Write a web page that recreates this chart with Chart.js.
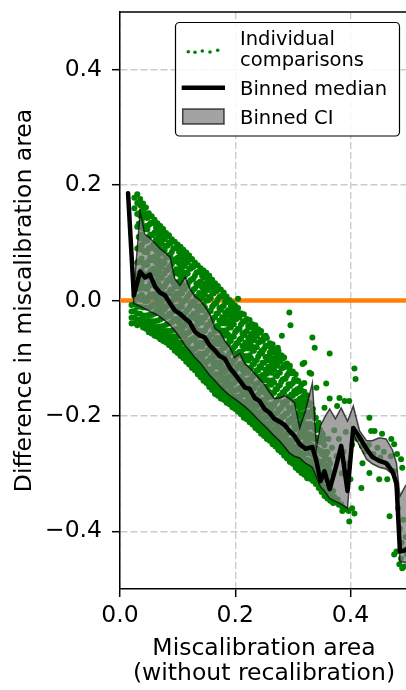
<!DOCTYPE html>
<html><head><meta charset="utf-8">
<script src="https://cdn.jsdelivr.net/npm/chart.js@4.4.0/dist/chart.umd.min.js"></script>
<style>
html,body{margin:0;padding:0;overflow:hidden;background:#fff;width:406px;height:690px;}
#wrap{position:relative;width:412px;height:690px;}
</style></head><body>
<div id="wrap"><canvas id="c" width="412" height="690"></canvas></div>
<script>
// ---- data ----
const binX = [0.014,0.024,0.035,0.043,0.052,0.061,0.069,0.078,0.087,0.095,0.104,0.113,0.121,0.130,0.139,0.147,0.156,0.165,0.173,0.182,0.191,0.199,0.208,0.217,0.225,0.234,0.242,0.251,0.260,0.268,0.277,0.286,0.294,0.303,0.312,0.322,0.334,0.341,0.348,0.355,0.364,0.374,0.384,0.395,0.405,0.416,0.428,0.438,0.450,0.462,0.473,0.480,0.486,0.495,0.502];
const binMedian = [0.186,0.009,0.050,0.040,0.045,0.024,0.014,0.009,-0.005,-0.017,-0.023,-0.031,-0.038,-0.054,-0.061,-0.064,-0.078,-0.087,-0.096,-0.101,-0.117,-0.127,-0.139,-0.151,-0.153,-0.169,-0.174,-0.188,-0.195,-0.205,-0.210,-0.216,-0.226,-0.235,-0.249,-0.257,-0.254,-0.278,-0.313,-0.296,-0.327,-0.292,-0.252,-0.330,-0.221,-0.237,-0.257,-0.271,-0.278,-0.282,-0.296,-0.317,-0.435,-0.433,-0.428];
const binUpper = [0.186,0.017,0.153,0.115,0.108,0.099,0.090,0.083,0.075,0.038,0.026,0.040,0.021,0.007,0.000,-0.010,-0.024,-0.049,-0.054,-0.070,-0.082,-0.099,-0.092,-0.110,-0.117,-0.127,-0.136,-0.146,-0.160,-0.170,-0.169,-0.165,-0.170,-0.177,-0.221,-0.191,-0.143,-0.256,-0.217,-0.203,-0.188,-0.205,-0.186,-0.209,-0.183,-0.226,-0.243,-0.243,-0.238,-0.240,-0.259,-0.282,-0.339,-0.322,-0.313];
const binLower = [0.186,-0.005,-0.010,-0.014,-0.019,-0.023,-0.028,-0.035,-0.043,-0.052,-0.064,-0.078,-0.087,-0.099,-0.108,-0.118,-0.130,-0.139,-0.148,-0.157,-0.165,-0.170,-0.177,-0.184,-0.191,-0.200,-0.209,-0.217,-0.226,-0.235,-0.243,-0.254,-0.264,-0.270,-0.273,-0.282,-0.289,-0.306,-0.323,-0.330,-0.343,-0.348,-0.353,-0.360,-0.231,-0.252,-0.275,-0.283,-0.289,-0.292,-0.301,-0.330,-0.452,-0.454,-0.452];

// individual comparisons: each row = [x, y1, y2, ...]
const scatterColumns = [
[0.020,-0.008,-0.019,-0.030,-0.040],
[0.025,0.178,0.160,0.022,0.008,-0.006,-0.018,-0.029,-0.039],
[0.030,0.184,0.169,0.150,0.128,0.090,0.066,0.041,0.020,0.004,-0.011,-0.022,-0.033,-0.043],
[0.035,0.176,0.165,0.147,0.128,0.108,0.089,0.067,0.044,0.021,0.002,-0.011,-0.023,-0.033,-0.041],
[0.040,0.168,0.147,0.125,0.108,0.087,0.064,0.046,0.024,0.006,-0.012,-0.026,-0.034,-0.041,-0.047],
[0.045,0.161,0.150,0.129,0.108,0.085,0.065,0.045,0.023,0.003,-0.012,-0.026,-0.036,-0.043,-0.049],
[0.050,0.151,0.131,0.110,0.090,0.069,0.047,0.025,0.006,-0.012,-0.025,-0.035,-0.043,-0.050,-0.055],
[0.055,0.146,0.135,0.113,0.091,0.070,0.049,0.027,0.007,-0.010,-0.025,-0.036,-0.045,-0.052,-0.057],
[0.060,0.140,0.118,0.097,0.076,0.054,0.031,0.011,-0.008,-0.023,-0.036,-0.046,-0.053,-0.058,-0.061],
[0.065,0.134,0.121,0.101,0.079,0.057,0.036,0.014,-0.005,-0.021,-0.035,-0.046,-0.054,-0.059,-0.063],
[0.070,0.129,0.106,0.084,0.063,0.042,0.020,-0.001,-0.018,-0.033,-0.045,-0.054,-0.060,-0.064,-0.067],
[0.075,0.124,0.110,0.089,0.068,0.046,0.024,0.004,-0.014,-0.030,-0.044,-0.054,-0.061,-0.066,-0.070],
[0.080,0.117,0.095,0.074,0.053,0.030,0.009,-0.011,-0.028,-0.042,-0.053,-0.061,-0.066,-0.070,-0.073],
[0.085,0.113,0.100,0.079,0.057,0.035,0.013,-0.006,-0.024,-0.040,-0.053,-0.062,-0.068,-0.073,-0.077],
[0.090,0.106,0.084,0.063,0.041,0.019,-0.002,-0.021,-0.038,-0.052,-0.062,-0.070,-0.075,-0.079,-0.081],
[0.095,0.102,0.090,0.068,0.047,0.024,0.003,-0.017,-0.035,-0.050,-0.062,-0.071,-0.078,-0.083,-0.087],
[0.100,0.097,0.074,0.052,0.031,0.008,-0.013,-0.032,-0.049,-0.062,-0.072,-0.080,-0.085,-0.089,-0.091],
[0.105,0.093,0.081,0.058,0.036,0.014,-0.008,-0.028,-0.046,-0.061,-0.073,-0.082,-0.088,-0.093,-0.096],
[0.110,0.088,0.064,0.043,0.020,-0.002,-0.024,-0.043,-0.060,-0.073,-0.083,-0.090,-0.095,-0.098,-0.100],
[0.115,0.083,0.071,0.048,0.026,0.003,-0.019,-0.039,-0.057,-0.072,-0.084,-0.093,-0.099,-0.103,-0.106],
[0.120,0.078,0.055,0.032,0.010,-0.013,-0.035,-0.055,-0.072,-0.085,-0.095,-0.101,-0.106,-0.109,-0.111],
[0.125,0.072,0.060,0.037,0.015,-0.008,-0.030,-0.050,-0.068,-0.084,-0.095,-0.104,-0.110,-0.114,-0.117],
[0.130,0.066,0.043,0.021,-0.002,-0.024,-0.046,-0.066,-0.083,-0.096,-0.105,-0.112,-0.116,-0.119,-0.121],
[0.135,0.061,0.049,0.026,0.003,-0.019,-0.041,-0.061,-0.080,-0.095,-0.106,-0.115,-0.121,-0.125,-0.128],
[0.140,0.056,0.033,0.010,-0.013,-0.036,-0.058,-0.078,-0.095,-0.108,-0.117,-0.124,-0.128,-0.131,-0.133],
[0.145,0.052,0.040,0.016,-0.007,-0.030,-0.053,-0.073,-0.092,-0.107,-0.118,-0.127,-0.132,-0.136,-0.139],
[0.150,0.048,0.024,0.000,-0.024,-0.047,-0.070,-0.090,-0.107,-0.120,-0.129,-0.135,-0.139,-0.141,-0.143],
[0.155,0.043,0.030,0.006,-0.018,-0.042,-0.065,-0.085,-0.104,-0.119,-0.130,-0.138,-0.144,-0.147,-0.150],
[0.160,0.036,0.013,-0.011,-0.035,-0.059,-0.082,-0.102,-0.119,-0.131,-0.140,-0.146,-0.150,-0.153,-0.155],
[0.165,0.030,0.019,-0.005,-0.029,-0.053,-0.076,-0.096,-0.115,-0.129,-0.140,-0.148,-0.155,-0.159,-0.162],
[0.170,0.025,0.002,-0.022,-0.046,-0.070,-0.093,-0.112,-0.129,-0.141,-0.150,-0.157,-0.160,-0.163,-0.165],
[0.175,0.019,0.008,-0.016,-0.040,-0.064,-0.087,-0.107,-0.125,-0.139,-0.150,-0.158,-0.163,-0.167,-0.170],
[0.180,0.014,-0.009,-0.033,-0.057,-0.081,-0.103,-0.122,-0.139,-0.151,-0.159,-0.165,-0.168,-0.170,-0.172],
[0.185,0.007,-0.003,-0.027,-0.051,-0.075,-0.097,-0.117,-0.134,-0.148,-0.159,-0.166,-0.171,-0.174,-0.177],
[0.190,0.001,-0.020,-0.044,-0.068,-0.091,-0.113,-0.132,-0.148,-0.159,-0.167,-0.173,-0.176,-0.178,-0.180],
[0.195,-0.004,-0.014,-0.038,-0.062,-0.085,-0.107,-0.127,-0.144,-0.157,-0.167,-0.174,-0.179,-0.182,-0.185],
[0.200,-0.009,-0.031,-0.055,-0.079,-0.101,-0.123,-0.141,-0.156,-0.167,-0.175,-0.181,-0.184,-0.186,-0.188],
[0.205,0.003,-0.013,-0.025,-0.049,-0.073,-0.095,-0.117,-0.137,-0.154,-0.167,-0.177,-0.184,-0.188,-0.191,-0.193],
[0.210,-0.022,-0.042,-0.066,-0.090,-0.112,-0.133,-0.151,-0.166,-0.177,-0.185,-0.190,-0.193,-0.195,-0.197],
[0.215,-0.024,-0.036,-0.060,-0.084,-0.106,-0.127,-0.146,-0.163,-0.176,-0.186,-0.193,-0.198,-0.201,-0.203],
[0.220,-0.032,-0.053,-0.077,-0.101,-0.123,-0.143,-0.161,-0.175,-0.186,-0.194,-0.199,-0.202,-0.204,-0.206],
[0.225,-0.034,-0.047,-0.071,-0.095,-0.117,-0.137,-0.156,-0.172,-0.185,-0.194,-0.201,-0.206,-0.209,-0.211],
[0.230,-0.041,-0.063,-0.087,-0.111,-0.133,-0.153,-0.171,-0.185,-0.195,-0.203,-0.208,-0.211,-0.213,-0.215],
[0.235,-0.043,-0.057,-0.081,-0.105,-0.127,-0.147,-0.166,-0.182,-0.195,-0.204,-0.210,-0.215,-0.218,-0.221],
[0.240,-0.050,-0.073,-0.097,-0.121,-0.143,-0.163,-0.181,-0.195,-0.205,-0.212,-0.217,-0.220,-0.223,-0.225],
[0.245,-0.053,-0.068,-0.092,-0.116,-0.138,-0.158,-0.176,-0.192,-0.204,-0.213,-0.219,-0.224,-0.228,-0.231],
[0.250,-0.062,-0.084,-0.108,-0.132,-0.154,-0.174,-0.191,-0.204,-0.213,-0.220,-0.226,-0.230,-0.233,-0.235],
[0.255,-0.065,-0.079,-0.103,-0.127,-0.149,-0.169,-0.187,-0.202,-0.213,-0.222,-0.229,-0.234,-0.237,-0.240],
[0.260,-0.074,-0.096,-0.120,-0.144,-0.166,-0.186,-0.202,-0.214,-0.223,-0.230,-0.236,-0.239,-0.241,-0.243],
[0.265,-0.076,-0.090,-0.114,-0.138,-0.160,-0.180,-0.198,-0.212,-0.223,-0.232,-0.239,-0.244,-0.247,-0.249],
[0.270,-0.084,-0.106,-0.130,-0.154,-0.176,-0.196,-0.212,-0.224,-0.233,-0.240,-0.246,-0.249,-0.251,-0.253],
[0.275,-0.087,-0.101,-0.125,-0.148,-0.170,-0.190,-0.207,-0.221,-0.232,-0.241,-0.248,-0.253,-0.256,-0.259],
[0.280,-0.095,-0.117,-0.141,-0.164,-0.186,-0.205,-0.221,-0.233,-0.242,-0.250,-0.256,-0.259,-0.261,-0.263],
[0.285,-0.099,-0.112,-0.136,-0.159,-0.180,-0.200,-0.217,-0.231,-0.242,-0.251,-0.258,-0.263,-0.266,-0.269],
[0.290,-0.109,-0.130,-0.153,-0.175,-0.196,-0.215,-0.231,-0.243,-0.253,-0.260,-0.266,-0.270,-0.272,-0.274],
[0.295,-0.113,-0.125,-0.148,-0.170,-0.191,-0.211,-0.228,-0.242,-0.253,-0.261,-0.268,-0.273,-0.277,-0.280],
[0.300,-0.123,-0.143,-0.165,-0.187,-0.208,-0.227,-0.243,-0.254,-0.263,-0.270,-0.276,-0.279,-0.281,-0.283],
[0.305,-0.128,-0.139,-0.161,-0.183,-0.203,-0.223,-0.240,-0.253,-0.263,-0.271,-0.278,-0.283,-0.287,-0.290],
[0.310,-0.140,-0.158,-0.180,-0.201,-0.221,-0.239,-0.254,-0.265,-0.273,-0.280,-0.286,-0.290,-0.292,-0.294],
[0.315,-0.146,-0.156,-0.177,-0.198,-0.218,-0.236,-0.252,-0.264,-0.274,-0.281,-0.287,-0.292,-0.296,-0.299],
[0.320,-0.158,-0.175,-0.196,-0.216,-0.234,-0.251,-0.265,-0.275,-0.283,-0.289,-0.294,-0.298,-0.300,-0.302],
[0.325,-0.164,-0.174,-0.194,-0.214,-0.232,-0.249,-0.264,-0.276,-0.285,-0.292,-0.298,-0.302,-0.306,-0.308],
[0.330,-0.178,-0.194,-0.214,-0.232,-0.249,-0.265,-0.278,-0.288,-0.295,-0.300,-0.304,-0.307,-0.309],
[0.335,-0.188,-0.196,-0.216,-0.235,-0.252,-0.268,-0.281,-0.292,-0.300,-0.306,-0.310,-0.313],
[0.340,-0.203,-0.218,-0.238,-0.256,-0.272,-0.286,-0.297,-0.306,-0.312,-0.316,-0.318],
[0.345,-0.212,-0.222,-0.242,-0.261,-0.278,-0.293,-0.305,-0.314,-0.320,-0.325],
[0.350,-0.229,-0.246,-0.266,-0.285,-0.301,-0.314,-0.323,-0.329,-0.332],
[0.355,-0.240,-0.251,-0.273,-0.294,-0.311,-0.324,-0.333,-0.339],
[0.360,-0.263,-0.286,-0.308,-0.326,-0.337,-0.343],
[0.365,-0.283,-0.298,-0.322,-0.338,-0.347],
[0.370,-0.301,-0.330,-0.346,-0.351],
// in-between columns of the dense cloud
[0.0325,0.170,0.151,0.133,0.110,0.091,0.068,0.047,0.028,0.006],
[0.0375,0.155,0.136,0.114,0.096,0.073,0.052,0.033,0.010],
[0.0425,0.160,0.144,0.124,0.102,0.084,0.061,0.040,0.021,-0.001],
[0.0475,0.143,0.123,0.104,0.083,0.062,0.040,0.020,-0.001],
[0.0525,0.133,0.114,0.092,0.074,0.051,0.030,0.011,-0.012],
[0.0575,0.134,0.115,0.097,0.074,0.055,0.032,0.011,-0.008],
[0.0625,0.126,0.106,0.087,0.066,0.045,0.023,0.003,-0.018],
[0.0675,0.128,0.112,0.092,0.070,0.052,0.029,0.008,-0.011],
[0.0725,0.118,0.099,0.081,0.058,0.039,0.016,-0.005,-0.024],
[0.0775,0.106,0.087,0.065,0.047,0.024,0.003,-0.016],
[0.0825,0.111,0.095,0.075,0.053,0.035,0.012,-0.009,-0.028],
[0.0875,0.099,0.079,0.060,0.039,0.018,-0.004,-0.024],
[0.0925,0.090,0.071,0.049,0.031,0.008,-0.013,-0.032],
[0.0975,0.091,0.072,0.054,0.031,0.012,-0.011,-0.032,-0.051],
[0.1025,0.084,0.064,0.045,0.024,0.003,-0.019,-0.039,-0.060],
[0.1075,0.088,0.072,0.052,0.030,0.012,-0.011,-0.032,-0.051],
[0.1125,0.079,0.060,0.042,0.019,0.000,-0.023,-0.044,-0.063],
[0.1175,0.066,0.047,0.025,0.007,-0.016,-0.037,-0.056,-0.079],
[0.1225,0.071,0.055,0.035,0.013,-0.005,-0.028,-0.049,-0.068,-0.090],
[0.1275,0.058,0.038,0.019,-0.002,-0.023,-0.045,-0.065,-0.086],
[0.1325,0.048,0.029,0.007,-0.011,-0.034,-0.055,-0.074,-0.097],
[0.1375,0.050,0.031,0.013,-0.010,-0.029,-0.052,-0.073,-0.092],
[0.1425,0.043,0.023,0.004,-0.017,-0.038,-0.060,-0.080,-0.101],
[0.1475,0.046,0.030,0.010,-0.012,-0.030,-0.053,-0.074,-0.093,-0.115],
[0.1525,0.037,0.018,0.000,-0.023,-0.042,-0.065,-0.086,-0.105,-0.127],
[0.1575,0.023,0.004,-0.018,-0.036,-0.059,-0.080,-0.099,-0.122],
[0.1625,0.028,0.012,-0.008,-0.030,-0.048,-0.071,-0.092,-0.111,-0.133],
[0.1675,0.016,-0.004,-0.023,-0.044,-0.065,-0.087,-0.107,-0.128],
[0.1725,0.006,-0.013,-0.035,-0.053,-0.076,-0.097,-0.116,-0.139],
[0.1775,0.008,-0.011,-0.029,-0.052,-0.071,-0.094,-0.115,-0.134],
[0.1825,-0.001,-0.021,-0.040,-0.061,-0.082,-0.104,-0.124,-0.145],
[0.1875,-0.001,-0.017,-0.037,-0.059,-0.077,-0.100,-0.121,-0.140,-0.162],
[0.1925,-0.010,-0.029,-0.047,-0.070,-0.089,-0.112,-0.133,-0.152],
[0.1975,-0.022,-0.041,-0.063,-0.081,-0.104,-0.125,-0.144,-0.167],
[0.2025,-0.016,-0.032,-0.052,-0.074,-0.092,-0.115,-0.136,-0.155],
[0.2075,-0.029,-0.049,-0.068,-0.089,-0.110,-0.132,-0.152,-0.173],
[0.2125,-0.038,-0.057,-0.079,-0.097,-0.120,-0.141,-0.160,-0.183],
[0.2175,-0.036,-0.055,-0.073,-0.096,-0.115,-0.138,-0.159,-0.178],
[0.2225,-0.044,-0.064,-0.083,-0.104,-0.125,-0.147,-0.167,-0.188],
[0.2275,-0.042,-0.058,-0.078,-0.100,-0.118,-0.141,-0.162,-0.181],
[0.2325,-0.050,-0.069,-0.087,-0.110,-0.129,-0.152,-0.173,-0.192],
[0.2375,-0.062,-0.081,-0.103,-0.121,-0.144,-0.165,-0.184],
[0.2425,-0.056,-0.072,-0.092,-0.114,-0.132,-0.155,-0.176,-0.195],
[0.2475,-0.069,-0.089,-0.108,-0.129,-0.150,-0.172,-0.192,-0.213],
[0.2525,-0.079,-0.098,-0.120,-0.138,-0.161,-0.182,-0.201],
[0.2575,-0.078,-0.097,-0.115,-0.138,-0.157,-0.180,-0.201,-0.220],
[0.2625,-0.086,-0.106,-0.125,-0.146,-0.167,-0.189,-0.209],
[0.2675,-0.084,-0.100,-0.120,-0.142,-0.160,-0.183,-0.204,-0.223],
[0.2725,-0.094,-0.113,-0.131,-0.154,-0.173,-0.196,-0.217,-0.236],
[0.2775,-0.106,-0.125,-0.147,-0.165,-0.188,-0.209,-0.228],
[0.2825,-0.101,-0.117,-0.137,-0.159,-0.177,-0.200,-0.221,-0.240],
[0.2875,-0.115,-0.135,-0.154,-0.175,-0.196,-0.218,-0.238],
[0.2925,-0.126,-0.145,-0.167,-0.185,-0.208,-0.229,-0.248],
[0.2975,-0.126,-0.145,-0.163,-0.186,-0.205,-0.228,-0.249],
[0.3025,-0.137,-0.157,-0.176,-0.197,-0.218,-0.240,-0.260],
[0.3075,-0.138,-0.154,-0.174,-0.196,-0.214,-0.237,-0.258],
[0.3125,-0.151,-0.170,-0.188,-0.211,-0.230,-0.253,-0.274],
[0.3175,-0.167,-0.186,-0.208,-0.226,-0.249,-0.270],
[0.3225,-0.165,-0.181,-0.201,-0.223,-0.241,-0.264,-0.280],
[0.3275,-0.181,-0.201,-0.220,-0.241,-0.262,-0.284],
[0.3325,-0.197,-0.216,-0.238,-0.256,-0.279],
[0.3375,-0.203,-0.222,-0.240,-0.263,-0.282],
[0.3425,-0.218,-0.238,-0.257,-0.278,-0.299],
[0.3475,-0.224,-0.240,-0.260,-0.282,-0.300],
[0.3525,-0.243,-0.262,-0.280,-0.303,-0.322],
[0.3575,-0.267,-0.286,-0.308,-0.326],
[0.3625,-0.276,-0.292,-0.312,-0.334]
];
const scatterExtra = [
[0.294,-0.021],[0.296,-0.043],[0.253,-0.061],[0.281,-0.061],[0.248,-0.070],[0.246,-0.087],[0.274,-0.082],[0.281,-0.096],[0.260,-0.090],[0.334,-0.064],[0.338,-0.082],[0.364,-0.092],[0.255,-0.104],[0.268,-0.110],[0.289,-0.110],[0.294,-0.118],[0.317,-0.110],[0.320,-0.143],[0.332,-0.127],[0.341,-0.151],[0.358,-0.144],[0.364,-0.170],[0.355,-0.186],[0.407,-0.118],[0.409,-0.136],[0.398,-0.174],[0.377,-0.183],[0.381,-0.169],[0.390,-0.174],[0.433,-0.203],[0.442,-0.226],[0.436,-0.226],[0.455,-0.231],[0.471,-0.240],[0.476,-0.249],[0.481,-0.266],[0.488,-0.275],[0.490,-0.290],[0.421,-0.282],[0.433,-0.299],[0.450,-0.310],[0.464,-0.310],[0.419,-0.325],[0.468,-0.374],[0.403,-0.360],[0.398,-0.383],[0.384,-0.353],[0.386,-0.365],[0.480,-0.435],[0.488,-0.447],[0.490,-0.464],[0.476,-0.440],[0.485,-0.457],[0.494,-0.461],[0.495,-0.431],[0.407,-0.369],[0.320,-0.108],[0.329,-0.125],
[0.340,-0.225],[0.346,-0.245],[0.352,-0.232],[0.358,-0.262],[0.362,-0.240],[0.368,-0.255],[0.372,-0.225],[0.376,-0.270],[0.380,-0.240],[0.385,-0.300],[0.388,-0.262],[0.392,-0.228],[0.396,-0.282],[0.400,-0.310],[0.403,-0.250],[0.370,-0.300],[0.360,-0.300],[0.350,-0.285],[0.412,-0.240],[0.420,-0.252],[0.426,-0.262],[0.432,-0.250],[0.440,-0.266],[0.447,-0.255],[0.452,-0.272],[0.458,-0.262],[0.465,-0.285],[0.470,-0.270],[0.476,-0.296],[0.483,-0.360],[0.486,-0.395],[0.489,-0.420],[0.492,-0.380],[0.496,-0.410],[0.498,-0.440],
[0.375,-0.350],[0.380,-0.354],[0.386,-0.358],[0.392,-0.362],[0.397,-0.365],[0.372,-0.340],[0.378,-0.345]
];
const zeroLineX = [0, 0.5];
const zeroLineY = [0, 0];
const xTicks = [0, 0.2, 0.4];
const xTickLabels = ['0.0', '0.2', '0.4'];
const yTicks = [-0.4, -0.2, 0, 0.2, 0.4];
const yTickLabels = ['\u22120.4', '\u22120.2', '0.0', '0.2', '0.4'];
const legendLabels = [['Individual', 'comparisons'], 'Binned median', 'Binned CI'];

// ---- build ----
const pts = (xs, ys) => xs.map((x, i) => ({x, y: ys[i]}));
const scatterPts = [];
scatterColumns.forEach(col => { for (let i = 1; i < col.length; i++) scatterPts.push({x: col[0], y: col[i]}); });
scatterExtra.forEach(p => scatterPts.push({x: p[0], y: p[1]}));

Chart.defaults.font.family = '"DejaVu Sans", sans-serif';
Chart.defaults.color = '#000';

const GREEN = '#008000';
const BAND_FILL = 'rgba(128,128,128,0.72)';
const BAND_EDGE = 'rgba(0,0,0,0.7)';

const framePlugin = {
  id: 'frame',
  afterDatasetsDraw(chart) {
    const {ctx, chartArea: a} = chart;
    ctx.save();
    ctx.strokeStyle = '#000';
    ctx.lineWidth = 1.5;
    ctx.beginPath();
    ctx.moveTo(a.left, a.top); ctx.lineTo(a.right, a.top); ctx.lineTo(a.right, a.bottom);
    ctx.stroke();
    ctx.restore();
  },
  afterDraw(chart) {
    const ctx = chart.ctx;
    ctx.save();
    const x0 = 175.5, y0 = 22.5, w = 224, h = 113.5, r = 4;
    ctx.beginPath();
    ctx.moveTo(x0 + r, y0); ctx.lineTo(x0 + w - r, y0); ctx.arcTo(x0 + w, y0, x0 + w, y0 + r, r);
    ctx.lineTo(x0 + w, y0 + h - r); ctx.arcTo(x0 + w, y0 + h, x0 + w - r, y0 + h, r);
    ctx.lineTo(x0 + r, y0 + h); ctx.arcTo(x0, y0 + h, x0, y0 + h - r, r);
    ctx.lineTo(x0, y0 + r); ctx.arcTo(x0, y0, x0 + r, y0, r);
    ctx.closePath();
    ctx.fillStyle = 'rgba(255,255,255,0.85)';
    ctx.fill();
    ctx.strokeStyle = '#000'; ctx.lineWidth = 1.2; ctx.stroke();
    ctx.fillStyle = GREEN;
    [[188.3,51.7],[195,52.3],[202.3,51],[210,52],[217.7,50.3]].forEach(([px, py]) => {
      ctx.beginPath(); ctx.arc(px, py, 1.8, 0, Math.PI * 2); ctx.fill();
    });
    ctx.strokeStyle = '#000'; ctx.lineWidth = 4.5;
    ctx.beginPath(); ctx.moveTo(181.7, 87.7); ctx.lineTo(225, 87.7); ctx.stroke();
    ctx.fillStyle = BAND_FILL; ctx.fillRect(182.7, 109, 41.3, 15);
    ctx.strokeStyle = BAND_EDGE; ctx.lineWidth = 1.5; ctx.strokeRect(182.7, 109, 41.3, 15);
    ctx.fillStyle = '#000';
    ctx.font = '19.5px "DejaVu Sans"';
    ctx.textBaseline = 'alphabetic';
    ctx.textAlign = 'left';
    ctx.fillText(legendLabels[0][0], 240, 45);
    ctx.fillText(legendLabels[0][1], 240, 66);
    ctx.fillText(legendLabels[1], 240, 95);
    ctx.fillText(legendLabels[2], 240, 123.5);
    ctx.restore();
  }
};

new Chart(document.getElementById('c'), {
  type: 'scatter',
  data: {
    datasets: [
      {type: 'line', label: 'Binned median', data: pts(binX, binMedian), borderColor: '#000', borderWidth: 4.5,
       pointRadius: 0, fill: false, tension: 0, borderJoinStyle: 'round', borderCapStyle: 'round', order: 0},
      {type: 'line', label: 'Binned CI', data: pts(binX, binUpper), borderColor: BAND_EDGE, borderWidth: 1.5,
       backgroundColor: BAND_FILL, pointRadius: 0, fill: '+1', tension: 0, order: 2},
      {type: 'line', label: 'CI lower', data: pts(binX, binLower), borderColor: BAND_EDGE, borderWidth: 1.5,
       pointRadius: 0, fill: false, tension: 0, order: 1},
      {type: 'scatter', label: 'Individual comparisons', data: scatterPts, pointRadius: 3,
       pointBackgroundColor: GREEN, pointBorderWidth: 0, backgroundColor: GREEN, borderWidth: 0, order: 3},
      {type: 'line', label: 'zero', data: pts(zeroLineX, zeroLineY), borderColor: '#ff7f0e', borderWidth: 4.5,
       pointRadius: 0, fill: false, order: 4}
    ]
  },
  options: {
    responsive: false, animation: false, events: [], devicePixelRatio: 1,
    layout: {padding: {left: 0, top: 12, right: 3.25, bottom: 0}},
    plugins: {legend: {display: false}, tooltip: {enabled: false}},
    scales: {
      x: {
        type: 'linear', min: 0, max: 0.5,
        afterBuildTicks: s => { s.ticks = xTicks.map(v => ({value: v})); },
        afterFit: s => { s.height = 101; s.paddingLeft = 0; s.paddingRight = 0; },
        ticks: {autoSkip: false, maxRotation: 0, padding: 5, font: {size: 23.5},
                callback: v => xTickLabels[xTicks.indexOf(v)]},
        grid: {color: '#cccccc', lineWidth: 1.4, tickLength: 8, tickColor: '#000', tickWidth: 1.5},
        border: {display: true, color: '#000', width: 1.5, dash: [7, 3]},
        title: {display: true, text: ['Miscalibration area', '(without recalibration)'],
                font: {size: 23.5, lineHeight: '25px'}, padding: {top: 0, bottom: 4}}
      },
      y: {
        type: 'linear', min: -0.5, max: 0.5,
        afterBuildTicks: s => { s.ticks = yTicks.map(v => ({value: v})); },
        afterFit: s => { s.width = 120; s.paddingTop = 0; s.paddingBottom = 0; },
        ticks: {autoSkip: false, padding: 10, font: {size: 23.5},
                callback: v => yTickLabels[yTicks.indexOf(v)]},
        grid: {color: '#cccccc', lineWidth: 1.4, tickLength: 8, tickColor: '#000', tickWidth: 1.5},
        border: {display: true, color: '#000', width: 1.5, dash: [7, 3]},
        title: {display: true, text: 'Difference in miscalibration area',
                font: {size: 23.5, lineHeight: 1.2}, padding: {top: 11, bottom: 0}}
      }
    }
  },
  plugins: [framePlugin]
});
</script>
</body></html>
